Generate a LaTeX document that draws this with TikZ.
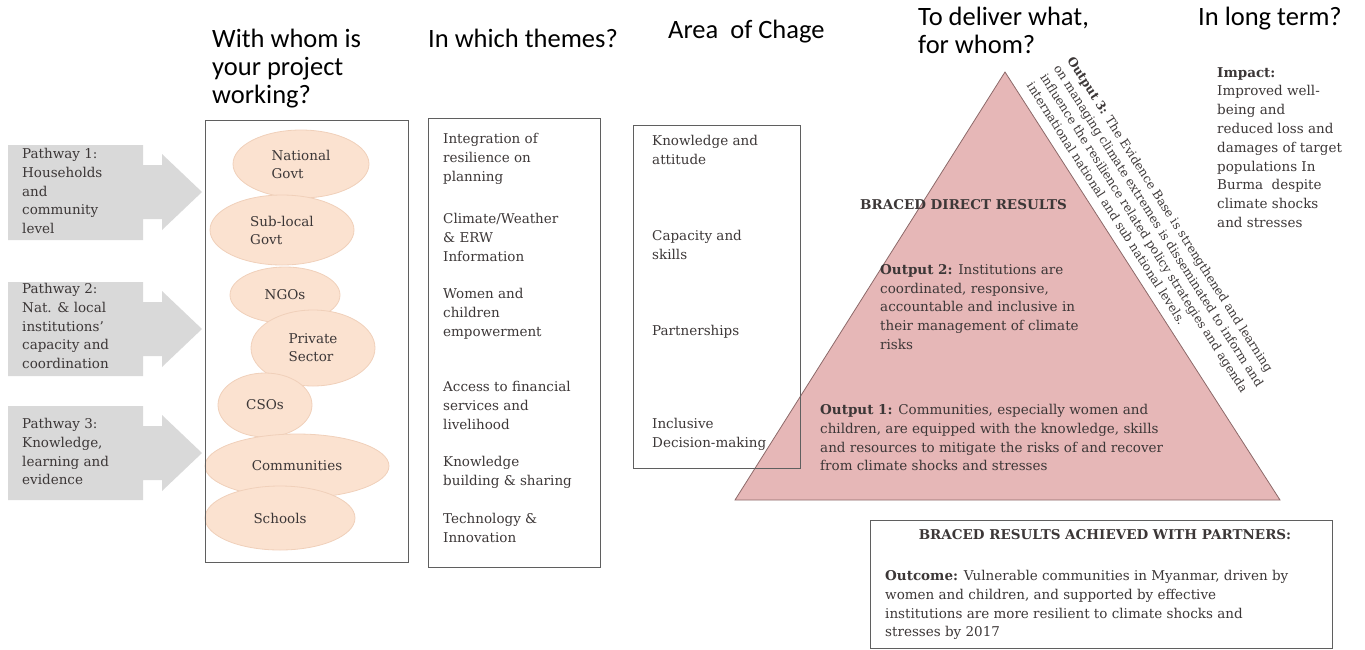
\documentclass[tikz,border=0pt]{standalone}
\usepackage{fontspec}
\setmainfont{DejaVu Serif}
\newfontfamily\headfont{Carlito}
\usetikzlibrary{shapes.geometric,positioning,calc}

\definecolor{pathgray}{RGB}{217,217,217}
\definecolor{peach}{RGB}{251,226,208}
\definecolor{peachline}{RGB}{240,208,186}
\definecolor{pyramid}{RGB}{230,183,183}
\definecolor{pyramidline}{RGB}{140,105,105}
\definecolor{boxline}{RGB}{95,95,95}
\definecolor{bodytext}{RGB}{60,55,55}

\tikzset{
  headtxt/.style={font=\headfont\fontsize{26.5}{28}\selectfont, anchor=north west, align=left, inner sep=0pt},
  bodytxt/.style={font=\fontsize{13.5}{18.8}\selectfont, text=bodytext, anchor=north west, align=left, inner sep=0pt},
  boldtxt/.style={bodytxt, font=\fontsize{13.5}{18.8}\selectfont\bfseries},
  bubble/.style={ellipse, fill=peach, draw=peachline, line width=0.8pt, inner sep=0pt, align=left, font=\fontsize{13.5}{18}\selectfont, text=bodytext},
  colbox/.style={draw=boxline, line width=1pt},
  pathway/.style={fill=pathgray},
}

\begin{document}
\begin{tikzpicture}[x=1pt,y=-1pt]
  \useasboundingbox (0,0) rectangle (1365,649);

  % column headings
  \node[headtxt] (whom) at (212,29) {With whom is\\your project\\working?};
  \node[headtxt] (themes) at (428,29) {In which themes?};
  \node[headtxt] (area) at (668,20) {Area~~of Chage};
  \node[headtxt] (deliver) at (918,7) {To deliver what,\\for whom?};
  \node[headtxt] (longterm) at (1198,7) {In long term?};

  % pathways
  \fill[pathway] (8,145) -- (143,145) -- (143,165) -- (162,165) -- (162,154) -- (202,192) -- (162,230) -- (162,219) -- (143,219) -- (143,240) -- (8,240) -- cycle;
  \fill[pathway] (8,282) -- (143,282) -- (143,302) -- (162,302) -- (162,291) -- (202,329) -- (162,367) -- (162,356) -- (143,356) -- (143,376) -- (8,376) -- cycle;
  \fill[pathway] (8,406) -- (143,406) -- (143,426) -- (162,426) -- (162,415) -- (202,453) -- (162,491) -- (162,480) -- (143,480) -- (143,500) -- (8,500) -- cycle;

  \node[bodytxt] (path1) at (22,148) {Pathway 1:\\Households\\and\\community\\level};
  \node[bodytxt] (path2) at (22,283) {Pathway 2:\\Nat. \& local\\institutions’\\capacity and\\coordination};
  \node[bodytxt] (path3) at (22,418) {Pathway 3:\\Knowledge,\\learning and\\evidence};

  % partners
  \node[bubble, minimum width=136pt, minimum height=68pt] (natgov) at (301,164) {National\\Govt};
  \node[bubble, minimum width=144pt, minimum height=70pt] (subgov) at (282,230) {Sub-local\\Govt};
  \node[bubble, minimum width=110pt, minimum height=56pt] (ngo) at (285,295) {NGOs};
  \node[bubble, minimum width=124pt, minimum height=76pt] (private) at (313,348) {Private\\Sector};
  \node[bubble, minimum width=94pt, minimum height=64pt] (cso) at (265,405) {CSOs};
  \node[bubble, minimum width=184pt, minimum height=64pt] (community) at (297,466) {Communities};
  \node[bubble, minimum width=150pt, minimum height=64pt] (school) at (280,518) {Schools};
  \draw[colbox] (205,120) rectangle (408,562);

  % themes
  \draw[colbox] (428,118) rectangle (600,567);
  \node[bodytxt] (theme1) at (443,133) {Integration of\\resilience on\\planning};
  \node[bodytxt] (theme2) at (443,213) {Climate/Weather\\\& ERW\\Information};
  \node[bodytxt] (theme3) at (443,288) {Women and\\children\\empowerment};
  \node[bodytxt] (theme4) at (443,381) {Access to financial\\services and\\livelihood};
  \node[bodytxt] (theme5) at (443,456) {Knowledge\\building \& sharing};
  \node[bodytxt] (theme6) at (443,513) {Technology \&\\Innovation};

  % results pyramid
  \coordinate (apex) at (1005,72);
  \coordinate (baseR) at (1280,500);
  \coordinate (baseL) at (735,500);
  \filldraw[fill=pyramid, draw=pyramidline, line width=0.8pt] (apex) -- (baseR) -- (baseL) -- cycle;

  % area of change
  \draw[colbox] (633,125) rectangle (800,468);
  \node[bodytxt] (change1) at (652,135) {Knowledge and\\attitude};
  \node[bodytxt] (change2) at (652,230) {Capacity and\\skills};
  \node[bodytxt] (change3) at (652,325) {Partnerships};
  \node[bodytxt] (change4) at (652,418) {Inclusive\\Decision-making};

  \node[boldtxt] (direct) at (860,199) {BRACED DIRECT RESULTS};
  \node[bodytxt] (out2) at (880,264) {\textbf{Output 2:} Institutions are\\coordinated, responsive,\\accountable and inclusive in\\their management of climate\\risks};
  \node[bodytxt] (out1) at (820,404) {\textbf{Output 1:} Communities, especially women and\\children, are equipped with the knowledge, skills\\and resources to mitigate the risks of and recover\\from climate shocks and stresses};
  \node[bodytxt, font=\fontsize{12.2}{16}\selectfont, rotate=-57.5, anchor=south west] (out3) at (1026,86) {\textbf{Output 3:} The Evidence Base is strengthened and learning\\on managing climate extremes is disseminated to inform and\\influence the resilience related policy strategies and agenda\\international national and sub national levels.};

  % long term
  \node[bodytxt] (impact) at (1217,67) {\textbf{Impact:}\\Improved well-\\being and\\reduced loss and\\damages of target\\populations In\\Burma~~despite\\climate shocks\\and stresses};

  % outcome
  \node[colbox, minimum width=462pt, minimum height=128pt, anchor=north west, inner sep=0pt] (outcomebox) at (870,520) {};
  \node[boldtxt, anchor=north] (partners) at (1105,529) {BRACED RESULTS ACHIEVED WITH PARTNERS:};
  \node[bodytxt] (outcome) at (885,570) {\textbf{Outcome:} Vulnerable communities in Myanmar, driven by\\women and children, and supported by effective\\institutions are more resilient to climate shocks and\\stresses by 2017};
\end{tikzpicture}
\end{document}
